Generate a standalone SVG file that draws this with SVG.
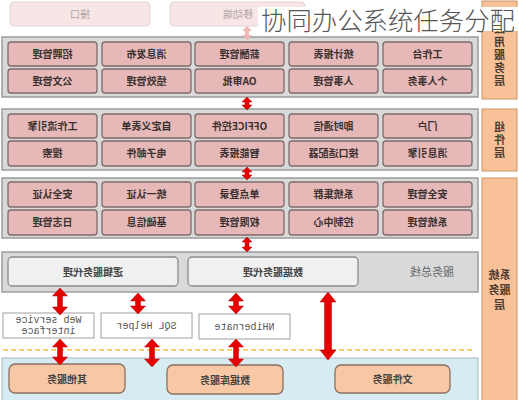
<svg xmlns="http://www.w3.org/2000/svg" width="519" height="400" viewBox="0 0 519 400">
<style>
text{font-family:"Noto Sans CJK SC","Liberation Sans",sans-serif;}
.m{transform-box:fill-box;transform-origin:center;transform:scaleX(-1);}
.band{fill:#d9d9d9;stroke:#9c9c9c;stroke-width:1.5;}
.pk{fill:#e6b9b8;stroke:#7f6b6b;stroke-width:1.3;}
.pt{font-size:10px;font-weight:bold;fill:#3a3030;text-anchor:middle;}
.fd{fill:#f7e6e5;stroke:#e4d2d2;stroke-width:1;}
.ft{font-size:10px;fill:#b0a4a4;text-anchor:middle;}
.lab{fill:#f9c198;stroke:#c99468;stroke-width:1;}
.lt{font-size:11px;font-weight:bold;fill:#4a3a30;text-anchor:middle;}
.vt{writing-mode:vertical-rl;letter-spacing:2px;}
.gb{fill:#f0f0f0;stroke:#8c8c8c;stroke-width:1.3;}
.gt{font-size:10px;font-weight:bold;fill:#444;text-anchor:middle;}
.wb{fill:#ffffff;stroke:#a0a0a0;stroke-width:1;}
.mt{font-family:"Liberation Mono",monospace;font-size:10px;fill:#555;text-anchor:middle;}
.ob{fill:#f8c8a6;stroke:#8a7060;stroke-width:1.3;}
.ar{fill:#e60000;stroke:#b00000;stroke-width:0.5;}
</style>

<!-- top faded boxes -->
<g id="n-jiekou"><rect class="fd" x="10" y="2" width="140" height="24" rx="4"/><text class="ft m" x="80" y="18">接口</text></g>
<g id="n-yidong"><rect class="fd" x="170" y="2" width="135" height="24" rx="4"/><text class="ft m" x="238" y="18">移动端</text></g>

<!-- side labels -->
<g id="l-app"><rect class="lab" x="482" y="1" width="35" height="98"/>
<text class="lt vt m" x="499.5" y="56">应用服务层</text></g>
<g id="l-comp"><rect class="lab" x="482" y="109" width="35" height="62"/>
<text class="lt vt m" x="499.5" y="141">组件层</text></g>
<g id="l-sys"><rect class="lab" x="482" y="178" width="35" height="224"/>
<text class="lt m" x="499.5" y="279">系统</text><text class="lt m" x="499.5" y="294">服务</text><text class="lt m" x="499.5" y="309">层</text></g>

<!-- band 1 -->
<g id="band1"><rect class="band" x="2" y="37" width="476" height="60"/></g>
<g id="b1-1"><rect class="pk" x="8" y="42" width="89" height="24" rx="3"/><text class="pt m" x="52.5" y="58">招聘管理</text></g>
<g id="b1-2"><rect class="pk" x="102" y="42" width="89" height="24" rx="3"/><text class="pt m" x="146.5" y="58">消息发布</text></g>
<g id="b1-3"><rect class="pk" x="195" y="42" width="89" height="24" rx="3"/><text class="pt m" x="239.5" y="58">薪酬管理</text></g>
<g id="b1-4"><rect class="pk" x="289" y="42" width="89" height="24" rx="3"/><text class="pt m" x="333.5" y="58">统计报表</text></g>
<g id="b1-5"><rect class="pk" x="383" y="42" width="89" height="24" rx="3"/><text class="pt m" x="427.5" y="58">工作台</text></g>
<g id="b1-6"><rect class="pk" x="8" y="69" width="89" height="24" rx="3"/><text class="pt m" x="52.5" y="85">公文管理</text></g>
<g id="b1-7"><rect class="pk" x="102" y="69" width="89" height="24" rx="3"/><text class="pt m" x="146.5" y="85">绩效管理</text></g>
<g id="b1-8"><rect class="pk" x="195" y="69" width="89" height="24" rx="3"/><text class="pt m" x="239.5" y="85">OA审批</text></g>
<g id="b1-9"><rect class="pk" x="289" y="69" width="89" height="24" rx="3"/><text class="pt m" x="333.5" y="85">人事管理</text></g>
<g id="b1-10"><rect class="pk" x="383" y="69" width="89" height="24" rx="3"/><text class="pt m" x="427.5" y="85">个人事务</text></g>

<!-- band 2 -->
<g id="band2"><rect class="band" x="2" y="109" width="476" height="61"/></g>
<g id="b2-1"><rect class="pk" x="8" y="114" width="89" height="24" rx="3"/><text class="pt m" x="52.5" y="130">工作流引擎</text></g>
<g id="b2-2"><rect class="pk" x="102" y="114" width="89" height="24" rx="3"/><text class="pt m" x="146.5" y="130">自定义表单</text></g>
<g id="b2-3"><rect class="pk" x="195" y="114" width="89" height="24" rx="3"/><text class="pt m" x="239.5" y="130">OFFICE控件</text></g>
<g id="b2-4"><rect class="pk" x="289" y="114" width="89" height="24" rx="3"/><text class="pt m" x="333.5" y="130">即时通信</text></g>
<g id="b2-5"><rect class="pk" x="383" y="114" width="89" height="24" rx="3"/><text class="pt m" x="427.5" y="130">门户</text></g>
<g id="b2-6"><rect class="pk" x="8" y="141" width="89" height="25" rx="3"/><text class="pt m" x="52.5" y="157">搜索</text></g>
<g id="b2-7"><rect class="pk" x="102" y="141" width="89" height="25" rx="3"/><text class="pt m" x="146.5" y="157">电子邮件</text></g>
<g id="b2-8"><rect class="pk" x="195" y="141" width="89" height="25" rx="3"/><text class="pt m" x="239.5" y="157">智能报表</text></g>
<g id="b2-9"><rect class="pk" x="289" y="141" width="89" height="25" rx="3"/><text class="pt m" x="333.5" y="157">接口适配器</text></g>
<g id="b2-10"><rect class="pk" x="383" y="141" width="89" height="25" rx="3"/><text class="pt m" x="427.5" y="157">消息引擎</text></g>

<!-- band 3 -->
<g id="band3"><rect class="band" x="2" y="178" width="476" height="60"/></g>
<g id="b3-1"><rect class="pk" x="8" y="182" width="89" height="25" rx="3"/><text class="pt m" x="52.5" y="198">安全认证</text></g>
<g id="b3-2"><rect class="pk" x="102" y="182" width="89" height="25" rx="3"/><text class="pt m" x="146.5" y="198">统一认证</text></g>
<g id="b3-3"><rect class="pk" x="195" y="182" width="89" height="25" rx="3"/><text class="pt m" x="239.5" y="198">单点登录</text></g>
<g id="b3-4"><rect class="pk" x="289" y="182" width="89" height="25" rx="3"/><text class="pt m" x="333.5" y="198">系统集群</text></g>
<g id="b3-5"><rect class="pk" x="383" y="182" width="89" height="25" rx="3"/><text class="pt m" x="427.5" y="198">安全管理</text></g>
<g id="b3-6"><rect class="pk" x="8" y="210" width="89" height="25" rx="3"/><text class="pt m" x="52.5" y="226">日志管理</text></g>
<g id="b3-7"><rect class="pk" x="102" y="210" width="89" height="25" rx="3"/><text class="pt m" x="146.5" y="226">基础信息</text></g>
<g id="b3-8"><rect class="pk" x="195" y="210" width="89" height="25" rx="3"/><text class="pt m" x="239.5" y="226">权限管理</text></g>
<g id="b3-9"><rect class="pk" x="289" y="210" width="89" height="25" rx="3"/><text class="pt m" x="333.5" y="226">控制中心</text></g>
<g id="b3-10"><rect class="pk" x="383" y="210" width="89" height="25" rx="3"/><text class="pt m" x="427.5" y="226">系统管理</text></g>

<!-- band 4: service bus -->
<g id="bus"><rect class="band" x="2" y="252" width="476" height="40"/><text class="gt m" x="432" y="276" style="font-weight:normal;fill:#666;font-size:11px">服务总线</text></g>
<g id="logic"><rect class="gb" x="8" y="257" width="170" height="29" rx="4"/><text class="gt m" x="93" y="276">逻辑服务代理</text></g>
<g id="data"><rect class="gb" x="188" y="257" width="170" height="29" rx="4"/><text class="gt m" x="273" y="276">数据服务代理</text></g>

<!-- adapters -->
<g id="ws"><rect class="wb" x="3" y="313" width="91" height="25"/><text class="mt m" x="48.5" y="323">Web service</text><text class="mt m" x="48.5" y="334">interface</text></g>
<g id="sql"><rect class="wb" x="101" y="313" width="91" height="25"/><text class="mt m" x="146.5" y="329">SQL Helper</text></g>
<g id="nh"><rect class="wb" x="199" y="314" width="91" height="25"/><text class="mt m" x="244.5" y="330">NHibernate</text></g>

<line x1="3" y1="350" x2="474" y2="350" stroke="#f0c040" stroke-width="1.5" stroke-dasharray="5,3"/>

<!-- bottom band -->
<g id="bottom"><rect x="2" y="358" width="476" height="44" fill="#d6ebf2" stroke="#a8b8bf" stroke-width="1"/></g>
<g id="other"><rect class="ob" x="9" y="364" width="116" height="29" rx="6"/><text class="gt m" x="67" y="383">其他服务</text></g>
<g id="db"><rect class="ob" x="167" y="365" width="116" height="29" rx="6"/><text class="gt m" x="225" y="384">数据库服务</text></g>
<g id="file"><rect class="ob" x="335" y="365" width="115" height="28" rx="6"/><text class="gt m" x="392.5" y="383">文件服务</text></g>

<!-- connectors -->
<g id="connectors">
<polygon fill="#f3b4b4" points="247,26 252,31 249,31 249,35 252,35 247,40 242,35 245,35 245,31 242,31"/>
<polygon class="ar" points="247,97 252,102 249,102 249,105 252,105 247,110 242,105 245,105 245,102 242,102"/>
<polygon class="ar" points="247,167 252,172 249,172 249,175 252,175 247,180 242,175 245,175 245,172 242,172"/>
<polygon class="ar" points="247,237 252,242 249,242 249,247 252,247 247,252 242,247 245,247 245,242 242,242"/>
<polygon class="ar" points="60,288 67.5,296 62.5,296 62.5,307 67.5,307 60,315 52.5,307 57.5,307 57.5,296 52.5,296"/>
<polygon class="ar" points="138,293 145.5,301 140.5,301 140.5,306 145.5,306 138,314 130.5,306 135.5,306 135.5,301 130.5,301"/>
<polygon class="ar" points="236,293 243.5,301 238.5,301 238.5,306 243.5,306 236,314 228.5,306 233.5,306 233.5,301 228.5,301"/>
<polygon class="ar" points="60,339 67.5,347 62.5,347 62.5,357 67.5,357 60,365 52.5,357 57.5,357 57.5,347 52.5,347"/>
<polygon class="ar" points="152,339 159.5,347 154.5,347 154.5,359 159.5,359 152,367 144.5,359 149.5,359 149.5,347 144.5,347"/>
<polygon class="ar" points="236,339 243.5,347 238.5,347 238.5,359 243.5,359 236,367 228.5,359 233.5,359 233.5,347 228.5,347"/>
<polygon class="ar" points="328,292 336,302 331.5,302 331.5,350 336,350 328,360 320,350 324.5,350 324.5,302 320,302"/>
</g>

<!-- title overlay -->
<rect x="258" y="7" width="261" height="24" fill="#ffffff"/>
<text x="261" y="30" style="font-size:25.4px;fill:#555555;font-weight:300">协同办公系统任务分配</text>
</svg>
